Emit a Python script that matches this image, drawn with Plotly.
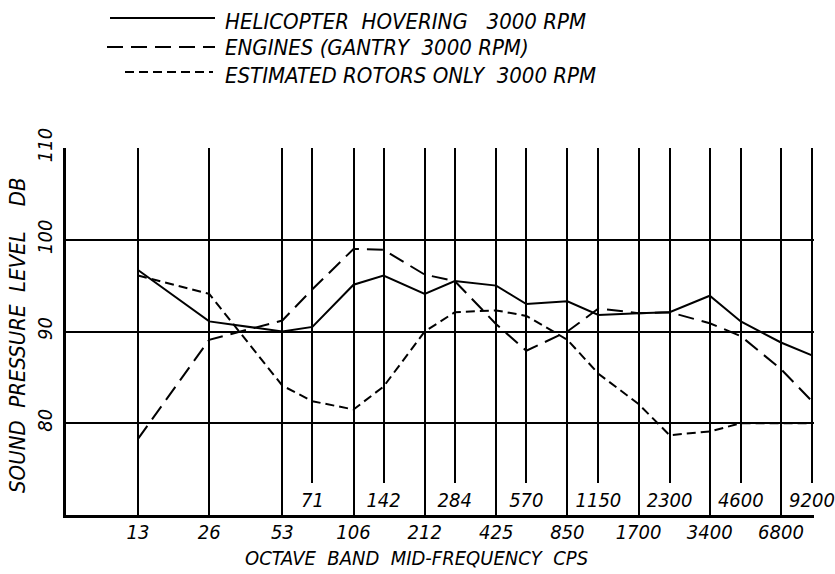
import plotly.graph_objects as go

# Octave-band and half-octave-band mid frequencies (cps)
octave_freqs = [13, 26, 53, 106, 212, 425, 850, 1700, 3400, 6800]
half_freqs = [71, 142, 284, 570, 1150, 2300, 4600, 9200]

# Measurement frequencies, in drawing order
freqs = [13, 26, 53, 71, 106, 142, 212, 284, 425, 570, 850, 1150,
         1700, 2300, 3400, 4600, 6800, 9200]

# Sound pressure level, dB
helicopter_hovering = [96.7, 91.1, 90.0, 90.5, 95.1, 96.1, 94.1, 95.5, 95.0,
                       93.0, 93.3, 91.8, 92.0, 92.1, 93.9, 91.1, 88.8, 87.4]
engines_gantry = [78.3, 89.1, 91.2, 94.6, 99.0, 98.9, 96.2, 95.5, 90.8,
                  87.9, 90.0, 92.5, 92.0, 92.1, 90.9, 89.5, 85.9, 82.4]
rotors_only = [96.1, 94.1, 84.1, 82.4, 81.5, 84.0, 90.0, 92.1, 92.3,
               91.7, 89.1, 85.4, 82.1, 78.7, 79.1, 80.0, 80.0, 80.0]

y_ticks = [80, 90, 100, 110]

NB = "\u00a0"
series = [
    (f"HELICOPTER{NB*2}HOVERING{NB*3}3000{NB}RPM", helicopter_hovering, "solid"),
    (f"ENGINES{NB}(GANTRY{NB*2}3000{NB}RPM)", engines_gantry, "16px,8px"),
    (f"ESTIMATED{NB}ROTORS{NB}ONLY{NB*2}3000{NB}RPM", rotors_only, "9px,5px"),
]

# Page geometry (pixels)
W, H = 835, 574
L, R, T, B = 66, 814, 148, 515

FONT = "DejaVu Sans Condensed, DejaVu Sans, sans-serif"
INK = "black"


def px_x(px):
    return (px - L) / (R - L)


def px_y(py):
    return (B - py) / (B - T)


def tfont(size):
    return dict(family=FONT, size=size, color=INK, style="italic")


fig = go.Figure()
for name, vals, dash in series:
    fig.add_trace(go.Scatter(
        x=freqs, y=vals, mode="lines", name=name, showlegend=False,
        line=dict(color=INK, width=2, dash=dash),
        xaxis="x", yaxis="y",
    ))

# empty trace that brings the half-octave axis into the figure
fig.add_trace(go.Scatter(
    x=half_freqs, y=[None] * len(half_freqs), mode="lines",
    showlegend=False, hoverinfo="skip", xaxis="x2", yaxis="y2",
))

x_range = [0.8095, 3.9723]

fig.update_layout(
    width=W, height=H,
    margin=dict(l=L, r=W - R, t=T, b=H - B, pad=0, autoexpand=False),
    paper_bgcolor="white",
    plot_bgcolor="rgba(0,0,0,0)",
    font=tfont(19),
    xaxis=dict(
        type="log", range=x_range, domain=[0, 1], anchor="y",
        tickmode="array", tickvals=octave_freqs,
        ticktext=[str(f) for f in octave_freqs],
        showgrid=True, gridcolor=INK, gridwidth=1.6,
        showline=True, linecolor=INK, linewidth=2.6,
        ticks="", ticklabelstandoff=-3, zeroline=False, automargin=False,
        tickfont=tfont(20),
    ),
    yaxis=dict(
        range=[70, 110], domain=[0, 1], anchor="x",
        tickmode="array", tickvals=y_ticks,
        ticktext=[str(v) for v in y_ticks],
        showgrid=True, gridcolor=INK, gridwidth=1.6,
        showline=True, linecolor=INK, linewidth=2.6,
        ticks="", tickangle=-90, ticklabelstandoff=3, zeroline=False,
        automargin=False, tickfont=tfont(20),
    ),
    # half-octave grid lines stop short of the baseline; their labels sit under them
    xaxis2=dict(
        type="log", range=x_range, domain=[0, 1], anchor="y2",
        tickmode="array", tickvals=half_freqs,
        ticktext=[str(f) for f in half_freqs],
        showgrid=True, gridcolor=INK, gridwidth=1.6,
        showline=False, ticks="", ticklabelstandoff=3, zeroline=False,
        automargin=False, tickfont=tfont(20),
    ),
    yaxis2=dict(
        range=[0, 1], domain=[px_y(483), 1], anchor="x2",
        showgrid=False, showline=False, showticklabels=False,
        zeroline=False, ticks="", automargin=False,
    ),
)

# Key at the top of the sheet
key_rows = [(18, 21, 110, 215), (47, 48, 107, 215), (72, 75, 125, 213)]
shapes = []
annotations = []
for (name, vals, dash), (ly, ty, x0, x1) in zip(series, key_rows):
    shapes.append(dict(
        type="line", xref="paper", yref="paper",
        x0=px_x(x0), x1=px_x(x1), y0=px_y(ly), y1=px_y(ly),
        line=dict(color=INK, width=2, dash=dash),
    ))
    annotations.append(dict(
        text=name, xref="paper", yref="paper",
        x=px_x(223), y=px_y(ty), xanchor="left", yanchor="middle",
        showarrow=False, font=tfont(22),
    ))

annotations.append(dict(
    text=f"OCTAVE{NB*2}BAND{NB*2}MID-FREQUENCY{NB*2}CPS",
    xref="paper", yref="paper", x=px_x(416), y=px_y(558),
    xanchor="center", yanchor="middle", showarrow=False, font=tfont(20),
))
annotations.append(dict(
    text=f"SOUND{NB*2}PRESSURE{NB*2}LEVEL{NB*4}DB",
    xref="paper", yref="paper", x=px_x(17), y=px_y(335),
    xanchor="center", yanchor="middle", textangle=-90, showarrow=False,
    font=tfont(22),
))

fig.update_layout(shapes=shapes, annotations=annotations)

fig.write_html("out.html")
